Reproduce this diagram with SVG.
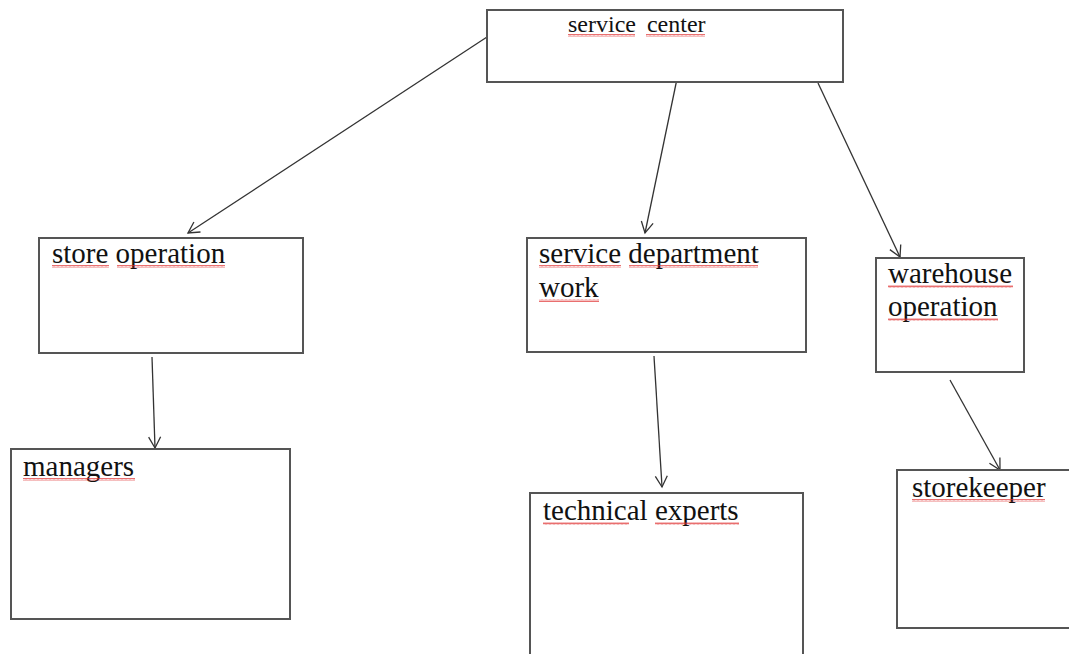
<svg xmlns="http://www.w3.org/2000/svg" width="1069" height="654" viewBox="0 0 1069 654">
<defs>
<style>
.box{fill:#fff;stroke:#555;stroke-width:2}
.t{font-family:"Liberation Serif","Times New Roman",serif;font-size:29px;fill:#111}
.ts{font-size:24px;word-spacing:5px}
.c{stroke:#333;stroke-width:1.3;fill:none}
.sq{fill:url(#wave)}
</style>
<pattern id="wave" patternUnits="userSpaceOnUse" width="4" height="3">
<path d="M0,2.5 L1,0.5 L2,2.5 L3,0.5 L4,2.5" fill="none" stroke="#e03030" stroke-width="0.7"/>
</pattern>
<marker id="arr" markerWidth="14" markerHeight="14" refX="12" refY="7" orient="auto" markerUnits="userSpaceOnUse">
<path d="M1,1 L12,7 L1,13" fill="none" stroke="#333" stroke-width="1.3"/>
</marker>
</defs>
<rect width="1069" height="654" fill="#fff"/>
<g id="connectors">
<line class="c" x1="487" y1="37" x2="188" y2="233" marker-end="url(#arr)"/>
<line class="c" x1="678" y1="74" x2="645" y2="233" marker-end="url(#arr)"/>
<line class="c" x1="818" y1="83" x2="900" y2="257" marker-end="url(#arr)"/>
<line class="c" x1="152" y1="357" x2="155" y2="448" marker-end="url(#arr)"/>
<line class="c" x1="654" y1="356" x2="662" y2="487" marker-end="url(#arr)"/>
<line class="c" x1="950" y1="380" x2="1000" y2="470" marker-end="url(#arr)"/>
</g>
<g id="service-center">
<rect class="box" x="487" y="10" width="356" height="72"/>
<text class="t ts" x="568" y="32">service center</text>
<rect class="sq" x="568" y="34" width="67" height="3"/>
<rect class="sq" x="646" y="34" width="59" height="3"/>
</g>
<g id="store-operation">
<rect class="box" x="39" y="238" width="264" height="115"/>
<text class="t" x="52" y="263">store operation</text>
<rect class="sq" x="52" y="265" width="57" height="3"/>
<rect class="sq" x="117" y="265" width="108" height="3"/>
</g>
<g id="service-department-work">
<rect class="box" x="527" y="238" width="279" height="114"/>
<text class="t" x="539" y="263">service department</text>
<text class="t" x="539" y="297">work</text>
<rect class="sq" x="539" y="265" width="82" height="3"/>
<rect class="sq" x="629" y="265" width="129" height="3"/>
<rect class="sq" x="539" y="299" width="60" height="3"/>
</g>
<g id="warehouse-operation">
<rect class="box" x="876" y="258" width="148" height="114"/>
<text class="t" x="888" y="283">warehouse</text>
<text class="t" x="888" y="316">operation</text>
<rect class="sq" x="888" y="285" width="125" height="3"/>
<rect class="sq" x="888" y="318" width="110" height="3"/>
</g>
<g id="managers">
<rect class="box" x="11" y="449" width="279" height="170"/>
<text class="t" x="23" y="476">managers</text>
<rect class="sq" x="23" y="478" width="112" height="3"/>
</g>
<g id="technical-experts">
<rect class="box" x="530" y="493" width="273" height="175"/>
<text class="t" x="543" y="520">technical experts</text>
<rect class="sq" x="543" y="522" width="86" height="3"/>
<rect class="sq" x="655" y="522" width="84" height="3"/>
</g>
<g id="storekeeper">
<rect class="box" x="897" y="470" width="190" height="158"/>
<text class="t" x="912" y="497">storekeeper</text>
<rect class="sq" x="912" y="499" width="133" height="3"/>
</g>
</svg>
